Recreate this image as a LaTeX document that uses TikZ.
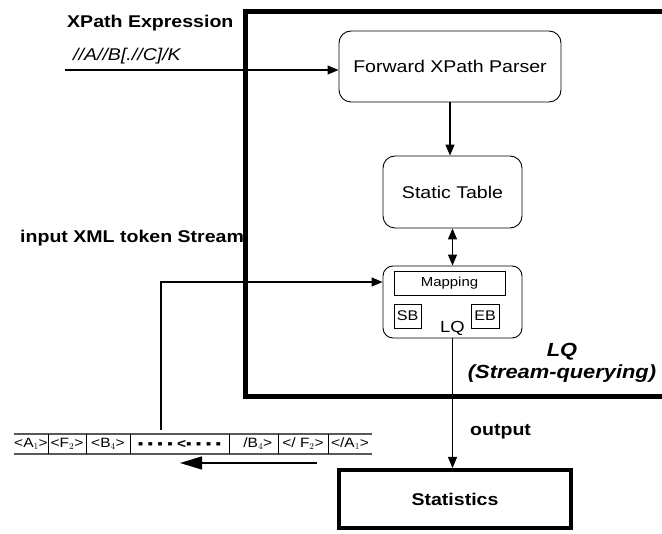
\documentclass[tikz,border=0pt]{standalone}
\usepackage{fontspec}
\setmainfont{Liberation Sans}[FakeStretch=1.15]
\usetikzlibrary{arrows.meta,positioning,calc}
\tikzset{
    unit/.style={
        rectangle,
        draw=black,
        rounded corners=12pt,
        line width=0.9pt,
        inner sep=0pt,
        font=\fontsize{17}{20}\selectfont
    },
    subunit/.style={
        rectangle,
        draw=black,
        line width=0.8pt,
        inner sep=0pt
    },
    frame/.style={
        draw=black,
        line width=5pt
    },
    note/.style={
        inner sep=0pt,
        font=\fontsize{17}{20}\selectfont\bfseries
    },
    cell/.style={
        inner sep=0pt,
        font=\fontsize{13.5}{15}\selectfont
    },
    arrow/.style={
        -{Triangle[length=11pt,width=9pt]},
        line width=1.2pt
    }
}

\begin{document}
\begin{tikzpicture}[x=1pt, y=-1pt]
    \useasboundingbox (0,0) rectangle (662,534);

    % Query processor frame
    \draw[frame] (245,12) rectangle (690,397);

    \node[unit, minimum width=222pt, minimum height=71pt] (parser) at (450,66.5) {Forward XPath Parser};
    \node[unit, minimum width=139pt, minimum height=72pt] (static) at (452.5,192) {Static Table};
    \node[unit, rounded corners=10pt, minimum width=139pt, minimum height=72pt] (lq) at (452.5,302) {};
    \node[subunit, minimum width=111pt, minimum height=24pt, font=\fontsize{13}{15}\selectfont] (mapping) at (449.5,283) {Mapping};
    \node[subunit, minimum width=27pt, minimum height=24pt, font=\fontsize{14}{16}\selectfont] (sb) at (407.5,316) {SB};
    \node[subunit, minimum width=28pt, minimum height=24pt, font=\fontsize{14}{16}\selectfont] (eb) at (485,316) {EB};
    \node[inner sep=0pt, font=\fontsize{16}{18}\selectfont] (lqname) at (452.5,328) {LQ};

    \node[note, font=\fontsize{19}{22}\selectfont\bfseries\itshape] (lqtitle) at (562,352) {LQ};
    \node[note, font=\fontsize{19}{22}\selectfont\bfseries\itshape, below=4pt of lqtitle] (lqsub) {(Stream-querying)};

    \node[unit, rounded corners=0pt, line width=4pt, minimum width=232pt, minimum height=58pt, font=\fontsize{17}{20}\selectfont\bfseries] (stats) at (455,499) {Statistics};

    % Labels
    \node[note, anchor=west] (exprtitle) at (67,23) {XPath Expression};
    \node[inner sep=0pt, anchor=west, font=\fontsize{17}{20}\selectfont\itshape] (expr) at (73,56) {//A//B[.//C]/K};
    \node[note, anchor=west] (streamtitle) at (20,238) {input XML token Stream};
    \node[note, anchor=west] (outtitle) at (470,432) {output};

    % Token stream
    \draw[line width=1.2pt, black!65] (14,434) -- (372,434) (14,454) -- (372,454);
    \foreach \x in {48,86,130,229,278,328}
        \draw[line width=1pt] (\x,434) -- (\x,454);
    \foreach \l/\r/\txt [count=\i] in {
        14/48/{<A$_1$>},
        48/86/{<F$_2$>},
        86/130/{<B$_4$>},
        130/229/{\textbf{▪ ▪ ▪ ▪ <▪ ▪ ▪ ▪}},
        229/278/{\ \ /B$_4$>},
        278/328/{</ F$_2$>},
        328/372/{</A$_1$>}%
    } {
        \node[cell] (tok\i) at ({(\l+\r)/2},444) {\txt};
    }

    \coordinate (exprin) at (65,70);
    \coordinate (streamtop) at (161,430);
    \coordinate (flowfrom) at (317,463);
    \coordinate (flowto) at (180,463);

    % Arrows
    \draw[arrow] (exprin) -- (exprin -| parser.west);
    \draw[arrow] (parser.south) -- (parser.south |- static.north);
    \draw[{Triangle[length=11pt,width=9pt]}-{Triangle[length=11pt,width=9pt]}, line width=1.2pt] (static.south) -- (lq.north);
    \draw[arrow] (streamtop) |- ([yshift=20pt]lq.west);
    \draw[arrow] (lq.south) -- (lq.south |- stats.north);
    \draw[-{Triangle[length=22pt,width=13pt]}, line width=1.2pt] (flowfrom) -- (flowto);
\end{tikzpicture}
\end{document}
